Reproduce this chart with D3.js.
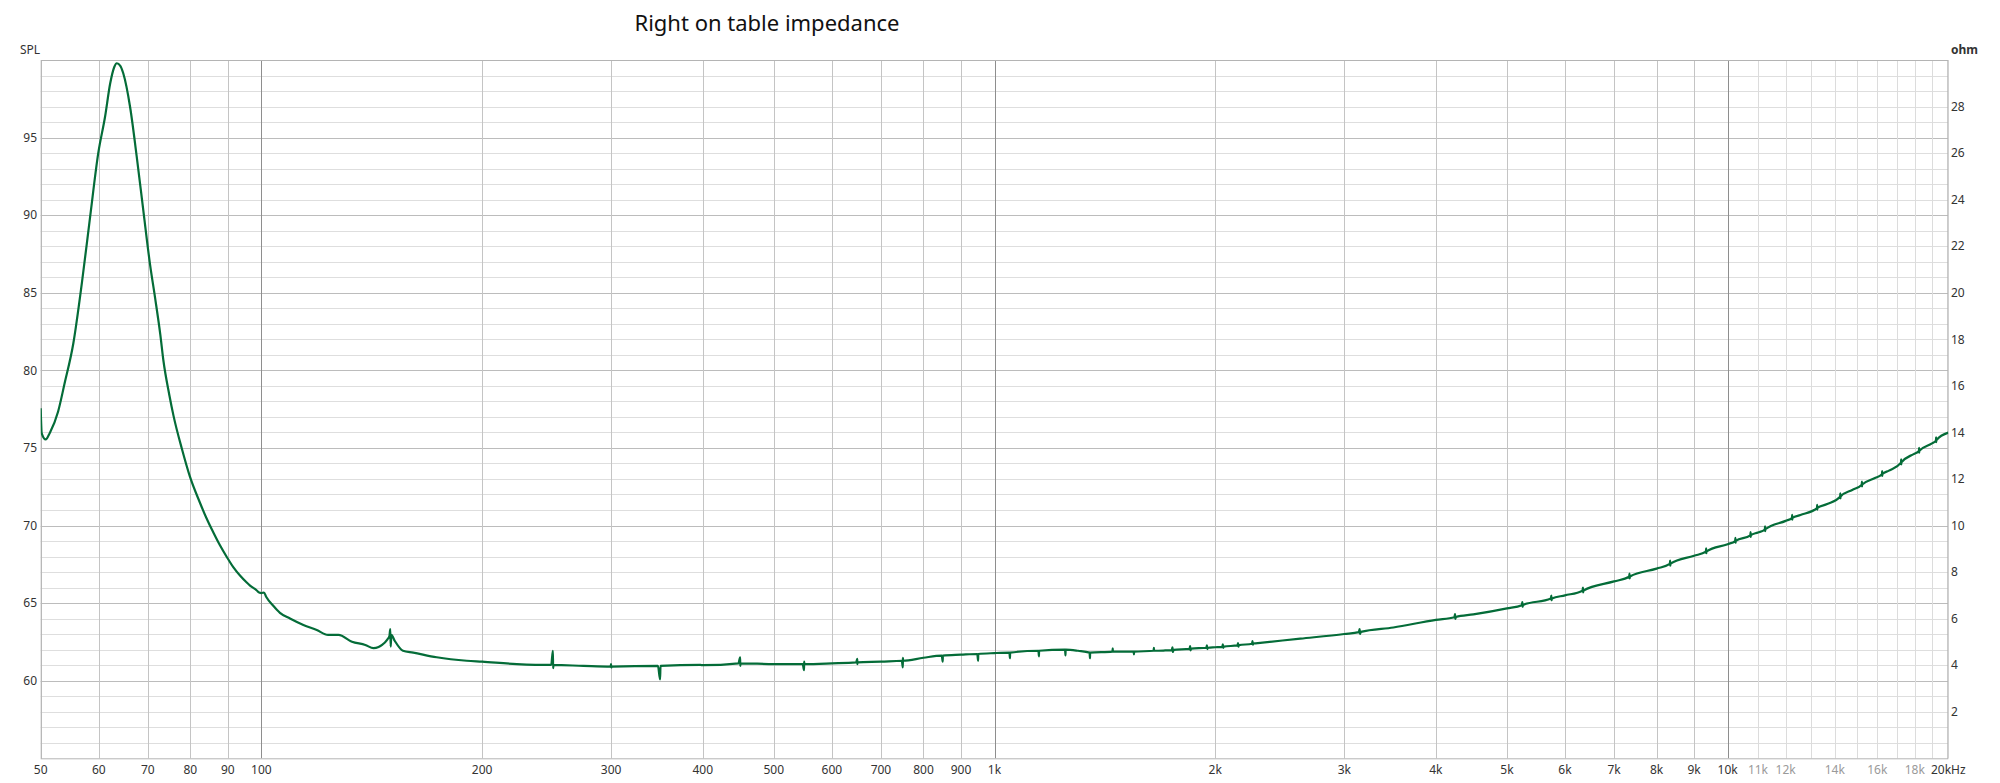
<!DOCTYPE html>
<html>
<head>
<meta charset="utf-8">
<script src="https://cdn.jsdelivr.net/npm/d3@7"></script>
<style>
  html, body { margin: 0; padding: 0; background: #ffffff; }
  svg { display: block; }
  text { font-family: "Noto Sans", "Open Sans", sans-serif; }
</style>
</head>
<body>
<svg id="chart" width="2000" height="783"></svg>
<script>
// ---------------- data ----------------
const title = "Right on table impedance";
const leftAxisLabel = "SPL";
const rightAxisLabel = "ohm";

// impedance curve: frequency (Hz)
const freqHz = [
  50, 50.16, 50.79, 51.47, 52.8, 53.9, 55.4, 56.9, 58.4, 59.9, 61.2, 62.2, 63.0, 63.5, 64.2, 64.8,
  66.2, 67.6, 69.0, 70.5, 71.6, 72.8, 73.5, 74.9, 75.9, 77.9, 79.9, 82.4, 84.2, 86.0, 87.8, 89.7,
  91.6, 93.5, 95.5, 96.5, 98.5, 99.3, 100, 100.8, 101.5, 103.8, 106, 109.4, 114.1, 119, 123.3, 127.4,
  132.9, 138.6, 142.2, 144.5, 146.1, 148.5, 149.5, 149.9, 150.1, 150.4, 152, 156, 161.1, 173.4, 190.6, 200,
  223, 248.5, 249.8, 250, 250.3, 275, 299.5, 299.9, 300.1, 300.5, 347.5, 349.8, 350.3, 397, 400, 447.5,
  449.8, 450, 450.3, 500, 547.5, 549.8, 550, 550.3, 600, 647.5, 649.8, 650, 650.3, 700, 747.5, 749.8,
  750, 750.3, 800, 847.5, 849.8, 850.3, 900, 947.5, 949.8, 950.3, 1000, 1048, 1049.8, 1050.3, 1148, 1149.8,
  1150.3, 1248, 1249.8, 1250.3, 1300, 1348, 1349.8, 1350.3, 1448, 1449.8, 1450.3, 1548, 1549.8, 1550.3, 1648, 1649.8,
  1650.3, 1700, 2000, 2270, 2613, 3000, 3500, 4000, 4500, 5000, 6000, 7000, 8000, 9000,
  10000, 11000, 12000, 12570, 13670, 14790, 15860, 16600, 17940, 19000, 20000
];
// impedance curve: magnitude (ohm)
const impedanceOhm = [
  15.04, 13.96, 13.70, 13.99, 14.89, 16.11, 17.83, 20.41, 23.27, 25.99, 27.56, 29.0, 29.7, 29.86, 29.75, 29.43,
  27.99, 25.85, 23.56, 21.2, 19.8, 18.2, 17.1, 15.6, 14.7, 13.3, 12.1, 11.0, 10.3, 9.7, 9.15, 8.65,
  8.2, 7.85, 7.55, 7.42, 7.22, 7.12, 7.10, 7.12, 6.94, 6.55, 6.25, 6.01, 5.73, 5.51, 5.30, 5.30,
  5.01, 4.87, 4.73, 4.78, 4.87, 5.10, 5.25, 5.55, 4.80, 5.30, 5.05, 4.62, 4.54, 4.34, 4.19, 4.15,
  4.05, 4.01, 4.62, 3.87, 4.01, 3.97, 3.94, 4.05, 3.90, 3.94, 3.97, 3.39, 3.97, 4.01, 4.00, 4.08,
  4.34, 3.97, 4.08, 4.05, 4.05, 3.79, 4.15, 4.05, 4.08, 4.12, 4.27, 4.05, 4.12, 4.15, 4.19, 3.91,
  4.32, 4.19, 4.32, 4.41, 4.15, 4.41, 4.45, 4.48, 4.19, 4.48, 4.52, 4.54, 4.30, 4.54, 4.62, 4.38,
  4.62, 4.67, 4.42, 4.67, 4.62, 4.54, 4.30, 4.54, 4.58, 4.72, 4.58, 4.58, 4.46, 4.58, 4.62, 4.74,
  4.62, 4.63, 4.77, 4.94, 5.14, 5.34, 5.62, 5.95, 6.18, 6.44, 7.0, 7.6, 8.15, 8.7,
  9.2, 9.7, 10.2, 10.45, 10.92, 11.53, 12.03, 12.36, 13.07, 13.53, 13.99
];

// small measurement spikes above 1.7 kHz: frequency (Hz)
const spikeFreqHz = [
  1745, 1749, 1751, 1755, 1845, 1849, 1851, 1855, 1945, 1949, 1951, 1955,
  2045, 2049, 2051, 2055, 2145, 2149, 2151, 2155, 2245, 2249, 2251, 2255,
  3140, 3148, 3152, 3160, 4240, 4248, 4252, 4260, 5240, 5248, 5252, 5260,
  5740, 5748, 5752, 5760, 6340, 6348, 6352, 6360, 7340, 7348, 7352, 7360,
  8340, 8348, 8352, 8360, 9340, 9348, 9352, 9360, 10240, 10248, 10252, 10260,
  10740, 10748, 10752, 10760, 11240, 11248, 11252, 11260, 12240, 12248, 12252, 12260,
  13240, 13248, 13252, 13260, 14240, 14248, 14252, 14260, 15240, 15248, 15252, 15260,
  16240, 16248, 16252, 16260, 17240, 17248, 17252, 17260, 18240, 18248, 18252, 18260,
  19240, 19248, 19252, 19260
];
// small measurement spikes above 1.7 kHz: magnitude (ohm)
const spikeOhm = [
  4.65, 4.77, 4.57, 4.66, 4.70, 4.82, 4.64, 4.71, 4.75, 4.85, 4.69, 4.75,
  4.79, 4.90, 4.74, 4.80, 4.85, 4.95, 4.80, 4.86, 4.92, 5.04, 4.88, 4.93,
  5.42, 5.55, 5.34, 5.43, 6.06, 6.19, 5.99, 6.07, 6.58, 6.71, 6.51, 6.59,
  6.86, 6.99, 6.79, 6.87, 7.20, 7.33, 7.13, 7.21, 7.80, 7.94, 7.73, 7.81,
  8.35, 8.49, 8.28, 8.36, 8.88, 9.02, 8.81, 8.89, 9.33, 9.47, 9.26, 9.34,
  9.58, 9.72, 9.51, 9.59, 9.83, 9.97, 9.76, 9.84, 10.32, 10.46, 10.25, 10.33,
  10.75, 10.89, 10.68, 10.76, 11.24, 11.38, 11.17, 11.25, 11.75, 11.89, 11.68, 11.76,
  12.20, 12.34, 12.13, 12.21, 12.70, 12.84, 12.63, 12.71, 13.20, 13.34, 13.13, 13.21,
  13.65, 13.79, 13.58, 13.66
];

// axis ticks
const freqGrid = [50, 60, 70, 80, 90, 100, 200, 300, 400, 500, 600, 700, 800, 900, 1000,
  2000, 3000, 4000, 5000, 6000, 7000, 8000, 9000, 10000,
  11000, 12000, 13000, 14000, 15000, 16000, 17000, 18000, 19000, 20000];
const freqMajor = [100, 1000, 10000];
const freqLabels = [50, 60, 70, 80, 90, 100, 200, 300, 400, 500, 600, 700, 800, 900, 1000,
  2000, 3000, 4000, 5000, 6000, 7000, 8000, 9000, 10000, 11000, 12000, 14000, 16000, 18000, 20000];
const freqLabelText = ["50", "60", "70", "80", "90", "100", "200", "300", "400", "500", "600", "700", "800", "900", "1k",
  "2k", "3k", "4k", "5k", "6k", "7k", "8k", "9k", "10k", "11k", "12k", "14k", "16k", "18k", "20kHz"];
const splTicks = [60, 65, 70, 75, 80, 85, 90, 95];
const ohmTicks = [2, 4, 6, 8, 10, 12, 14, 16, 18, 20, 22, 24, 26, 28];
const splDomain = [55, 100];
const ohmDomain = [0, 30];
const freqDomain = [50, 20000];

// ---------------- layout ----------------
const L = 40.7, R = 1948.3, T = 60, B = 758.3;
const svg = d3.select("#chart");

const x = d3.scaleLog().domain(freqDomain).range([L, R]);
const ySpl = d3.scaleLinear().domain(splDomain).range([B, T]);
const yOhm = d3.scaleLinear().domain(ohmDomain).range([B, T]);

// horizontal grid: every 1 dB, major every 5 dB
const splGrid = d3.range(splDomain[0] + 1, splDomain[1]);
svg.append("g").selectAll("line").data(splGrid).join("line")
  .attr("x1", L).attr("x2", R)
  .attr("y1", d => Math.round(ySpl(d)) + 0.5).attr("y2", d => Math.round(ySpl(d)) + 0.5)
  .attr("stroke", d => d % 5 === 0 ? "#bcbcbc" : "#dedede")
  .attr("stroke-width", 1);

// vertical grid
svg.append("g").selectAll("line").data(freqGrid).join("line")
  .attr("x1", d => Math.round(x(d)) + 0.5).attr("x2", d => Math.round(x(d)) + 0.5)
  .attr("y1", T).attr("y2", B)
  .attr("stroke", d => freqMajor.includes(d) ? "#8e8e8e" : (d > 10000 ? "#dcdcdc" : "#c4c4c4"))
  .attr("stroke-width", 1);

// frame
svg.append("rect")
  .attr("x", L + 0.5).attr("y", T + 0.5)
  .attr("width", R - L - 1).attr("height", B - T)
  .attr("fill", "none").attr("stroke", "#b4b4b4").attr("stroke-width", 1);

// curve (main points + spike points, ordered by frequency)
const pts = freqHz.map((f, i) => [f, impedanceOhm[i]])
  .concat(spikeFreqHz.map((f, i) => [f, spikeOhm[i]]))
  .sort((a, b) => a[0] - b[0]);
svg.append("defs").append("clipPath").attr("id", "clip")
  .append("rect").attr("x", L).attr("y", T).attr("width", R - L).attr("height", B - T);
const line = d3.line()
  .x(d => x(d[0])).y(d => yOhm(d[1]))
  .curve(d3.curveMonotoneX);
svg.append("path")
  .datum(pts)
  .attr("clip-path", "url(#clip)")
  .attr("d", line)
  .attr("fill", "none")
  .attr("stroke", "#046c38")
  .attr("stroke-width", 2.2)
  .attr("stroke-linejoin", "round");

// left axis labels
svg.append("g").selectAll("text").data(splTicks).join("text")
  .attr("x", 37).attr("y", d => ySpl(d))
  .attr("dy", "0.35em")
  .attr("text-anchor", "end")
  .attr("font-size", 12).attr("fill", "#333")
  .text(d => d);

// right axis labels
svg.append("g").selectAll("text").data(ohmTicks).join("text")
  .attr("x", 1951).attr("y", d => yOhm(d))
  .attr("dy", "0.35em")
  .attr("text-anchor", "start")
  .attr("font-size", 12).attr("fill", "#333")
  .text(d => d);

// bottom axis labels
svg.append("g").selectAll("text").data(freqLabels).join("text")
  .attr("x", d => x(d)).attr("y", 774)
  .attr("text-anchor", "middle")
  .attr("font-size", 12)
  .attr("fill", d => (d > 10000 && d < 20000) ? "#9a9a9a" : "#333")
  .text((d, i) => freqLabelText[i]);

// axis titles
svg.append("text").attr("x", 20).attr("y", 54)
  .attr("font-size", 12).attr("fill", "#333").text(leftAxisLabel);
svg.append("text").attr("x", 1951).attr("y", 54)
  .attr("font-size", 12).attr("font-weight", "bold").attr("fill", "#333").text(rightAxisLabel);

// title
svg.append("text").attr("x", 767).attr("y", 31)
  .attr("text-anchor", "middle")
  .attr("font-size", 22).attr("fill", "#111")
  .text(title);
</script>
</body>
</html>
